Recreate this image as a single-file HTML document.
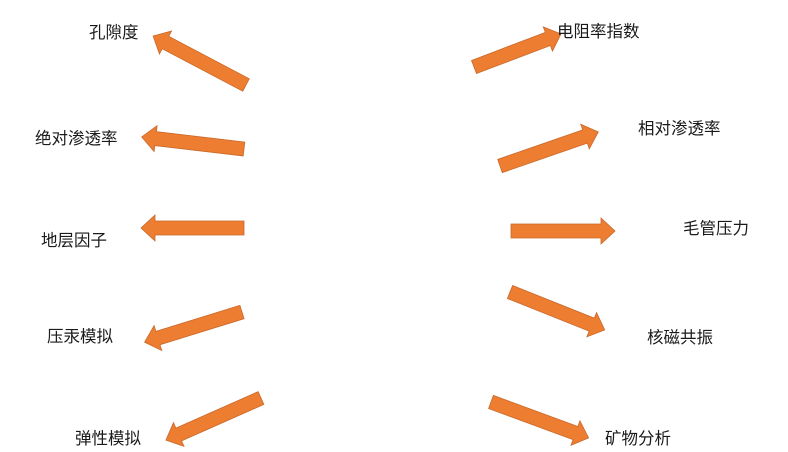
<!DOCTYPE html>
<html><head><meta charset="utf-8"><style>
html,body{margin:0;padding:0;background:#fff;width:788px;height:452px;overflow:hidden}
svg{display:block}
text{font-family:"Liberation Sans","Noto Sans CJK SC",sans-serif;font-size:16.5px;fill:#1a1a1a}
</style></head><body>
<svg width="788" height="452" viewBox="0 0 788 452">
<g fill="#ED7D31" stroke="#C9692A" stroke-width="0.8">
<polygon transform="translate(246,85) rotate(207.8)" points="0,-7 91,-7 91,-13 105,0 91,13 91,7 0,7"/>
<polygon transform="translate(244,149) rotate(186.7)" points="0,-7 89,-7 89,-13 103,0 89,13 89,7 0,7"/>
<polygon transform="translate(244,228) rotate(180)" points="0,-7 89,-7 89,-13 103,0 89,13 89,7 0,7"/>
<polygon transform="translate(242,312) rotate(162.8)" points="0,-7 88,-7 88,-13 102,0 88,13 88,7 0,7"/>
<polygon transform="translate(261,398) rotate(156.1)" points="0,-7 90,-7 90,-13 104,0 90,13 90,7 0,7"/>
<polygon transform="translate(474,67) rotate(-20.8)" points="0,-7 79,-7 79,-13 93,0 79,13 79,7 0,7"/>
<polygon transform="translate(500,166) rotate(-19.1)" points="0,-7 90,-7 90,-13 104,0 90,13 90,7 0,7"/>
<polygon transform="translate(511,231) rotate(0)" points="0,-7 90,-7 90,-13 104,0 90,13 90,7 0,7"/>
<polygon transform="translate(510,292) rotate(21.8)" points="0,-7 88,-7 88,-13 102,0 88,13 88,7 0,7"/>
<polygon transform="translate(491,402) rotate(20.2)" points="0,-7 90,-7 90,-13 104,0 90,13 90,7 0,7"/>
</g>
<text x="89" y="38">孔隙度</text>
<text x="35" y="144">绝对渗透率</text>
<text x="41" y="246">地层因子</text>
<text x="47" y="342">压汞模拟</text>
<text x="75" y="444">弹性模拟</text>
<text x="557" y="37">电阻率指数</text>
<text x="638" y="134">相对渗透率</text>
<text x="683" y="234">毛管压力</text>
<text x="647" y="343">核磁共振</text>
<text x="605" y="444">矿物分析</text>
</svg>
</body></html>
